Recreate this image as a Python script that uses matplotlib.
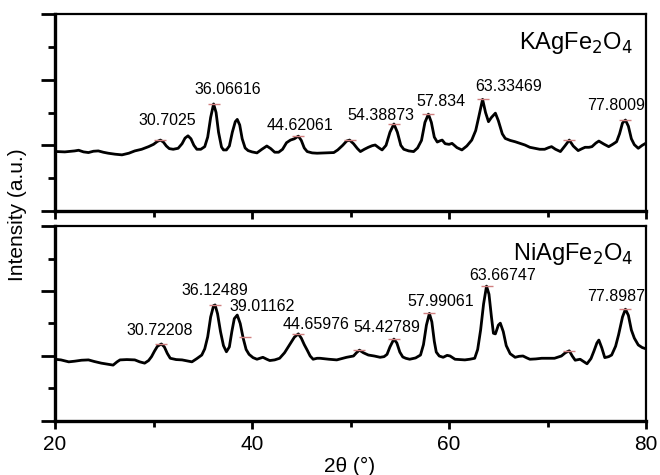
import matplotlib
matplotlib.use("Agg")
import matplotlib.pyplot as plt
from matplotlib.ticker import MultipleLocator, NullFormatter

plt.rcParams['font.family'] = ['Liberation Sans', 'DejaVu Sans']

# ============================
# data
# ============================

# KAgFe2O4 pattern
k_theta = [20.2, 21.0, 22.0, 22.4, 22.9, 23.4, 23.9, 24.4, 24.9, 25.4, 26.1, 26.8,
           27.5, 28.1, 28.8, 29.5, 30.0, 30.4, 30.7, 31.0, 31.3, 31.6, 32.0, 32.5,
           32.9, 33.2, 33.5, 33.8, 34.1, 34.4, 34.8, 35.2, 35.5, 35.8, 36.1, 36.35,
           36.6, 36.9, 37.1, 37.4, 37.7, 38.0, 38.3, 38.5, 38.75, 39.0, 39.3, 39.6,
           40.0, 40.5, 41.0, 41.5, 41.9, 42.3, 42.7, 43.1, 43.5, 43.9, 44.3, 44.7,
           45.0, 45.3, 45.6, 46.1, 46.6, 47.5, 48.3, 48.7, 49.2, 49.6, 49.9, 50.3,
           50.7, 51.0, 51.4, 51.8, 52.2, 52.5, 52.9, 53.2, 53.6, 54.0, 54.4, 54.75,
           55.1, 55.4, 55.9, 56.4, 56.8, 57.2, 57.55, 57.9, 58.2, 58.5, 58.8, 59.1,
           59.3, 59.6, 60.0, 60.3, 60.8, 61.3, 61.8, 62.3, 62.7, 63.0, 63.4, 63.7,
           64.0, 64.3, 64.7, 65.0, 65.4, 65.7, 66.2, 66.7, 67.2, 67.7, 68.2, 68.7,
           69.2, 69.7, 70.1, 70.4, 70.8, 71.3, 71.8, 72.2, 72.6, 73.1, 73.5, 73.8,
           74.2, 74.5, 74.9, 75.2, 75.7, 76.2, 76.6, 77.0, 77.3, 77.6, 77.9, 78.2,
           78.5, 78.8, 79.2, 79.6, 80.0]
k_int = [181, 180, 183, 185, 180, 178, 182, 183, 179, 176, 173, 171,
         176, 183, 188, 196, 203, 212, 216, 210, 198, 190, 188, 191,
         205, 222, 229, 220, 200, 188, 188, 196, 225, 285, 326, 300,
         240, 195, 186, 186, 198, 240, 272, 279, 262, 220, 192, 184,
         180, 177, 188, 198, 190, 179, 179, 188, 208, 216, 220, 228,
         215, 192, 181, 177, 176, 177, 178, 186, 200, 213, 216, 205,
         190, 181, 188, 194, 199, 201, 192, 186, 200, 240, 265, 240,
         200, 188, 183, 181, 192, 215, 270, 295, 270, 225, 210, 214,
         216, 205, 203, 206, 193, 186, 198, 216, 245, 285, 340, 300,
         272, 285, 298, 275, 235, 221, 215, 211, 206, 201, 194, 191,
         188, 188, 193, 196, 188, 181, 200, 216, 198, 184, 190, 194,
         194, 196, 207, 213, 204, 196, 203, 211, 235, 268, 277, 258,
         220, 202, 191, 200, 207]

# NiAgFe2O4 pattern
ni_theta = [20.0, 20.6, 21.4, 22.0, 22.7, 23.4, 24.0, 24.7, 25.3, 25.9, 26.3, 26.6,
            27.3, 28.1, 28.6, 29.1, 29.5, 29.8, 30.1, 30.4, 30.8, 31.1, 31.4, 31.7,
            32.3, 32.9, 33.4, 33.9, 34.4, 34.9, 35.2, 35.5, 35.8, 36.1, 36.25, 36.5,
            36.8, 37.1, 37.4, 37.7, 37.95, 38.2, 38.5, 38.8, 39.1, 39.4, 39.7, 40.1,
            40.5, 41.1, 41.5, 41.8, 42.3, 42.8, 43.3, 43.9, 44.3, 44.7, 45.0, 45.3,
            45.6, 45.9, 46.2, 46.6, 46.9, 47.8, 48.6, 49.1, 49.6, 50.3, 50.6, 50.9,
            51.3, 51.8, 52.4, 53.0, 53.4, 53.7, 54.0, 54.4, 54.7, 55.0, 55.3, 55.6,
            56.0, 56.6, 57.1, 57.4, 57.7, 58.0, 58.25, 58.5, 58.7, 59.0, 59.4, 59.8,
            60.1, 60.6, 61.1, 61.6, 62.1, 62.6, 62.9, 63.2, 63.5, 63.8, 64.05, 64.3,
            64.5, 64.7, 65.0, 65.2, 65.5, 65.8, 66.2, 66.7, 67.1, 67.5, 67.9, 68.2,
            68.8, 69.4, 70.0, 70.7, 71.1, 71.4, 71.8, 72.2, 72.5, 72.8, 73.3, 73.7,
            74.0, 74.4, 74.7, 75.0, 75.2, 75.5, 75.8, 76.2, 76.5, 76.9, 77.2, 77.6,
            77.9, 78.2, 78.5, 78.8, 79.2, 79.6, 80.0]
ni_int = [190, 188, 182, 184, 187, 188, 183, 178, 175, 172, 182, 188,
          189, 188, 182, 178, 186, 198, 215, 230, 237, 228, 208, 193,
          189, 188, 185, 182, 192, 203, 222, 259, 320, 355, 357, 330,
          275, 232, 213, 228, 275, 315, 326, 300, 255, 220, 205, 195,
          190, 196, 190, 186, 188, 193, 210, 239, 258, 268, 255, 235,
          218, 200, 190, 193, 193, 190, 188, 192, 196, 200, 210, 218,
          210, 203, 200, 196, 198, 205, 228, 252, 240, 212, 197, 193,
          190, 194, 203, 235, 295, 331, 305, 245, 212, 200, 196, 202,
          200, 190, 189, 188, 190, 193, 220, 280, 360, 415, 390, 320,
          270, 268, 295, 301, 275, 232, 207, 196, 199, 200, 194, 190,
          191, 193, 193, 193, 197, 200, 210, 216, 200, 187, 190, 182,
          176, 192, 215, 240, 249, 225, 195, 198, 203, 230, 265, 320,
          344, 325, 280, 255, 234, 226, 222]

# peak labels: text, x, y
k_labels = ["30.7025", "36.06616", "44.62061", "54.38873", "57.834", "63.33469", "77.8009"]
k_label_x = [31.4, 37.5, 44.9, 53.1, 59.2, 66.0, 76.9]
k_label_y = [277, 369, 259, 292, 332, 378, 320]

ni_labels = ["30.72208", "36.12489", "39.01162", "44.65976", "54.42789",
             "57.99061", "63.66747", "77.8987"]
ni_label_x = [30.6, 36.2, 41.0, 46.5, 53.7, 59.1, 65.4, 77.0]
ni_label_y = [278, 403, 352, 298, 288, 367, 449, 382]

# small red peak-pick marks
k_mark_x = [30.7, 36.1, 44.7, 49.9, 54.4, 57.9, 63.4, 72.2, 77.9]
k_mark_y = [216, 326, 228, 216, 265, 295, 340, 216, 277]
ni_mark_x = [30.8, 36.2, 39.3, 44.7, 50.9, 54.4, 58.0, 63.8, 72.2, 77.9]
ni_mark_y = [237, 357, 258, 268, 218, 252, 331, 415, 216, 344]

# ============================
# plot
# ============================

fig = plt.figure(figsize=(6.6, 4.75), dpi=100)
ax1 = fig.add_axes([0.0833, 0.5558, 0.8957, 0.4147])
ax2 = fig.add_axes([0.0833, 0.1137, 0.8957, 0.4105])

panels = [
    (ax1, k_theta, k_int, k_labels, k_label_x, k_label_y, k_mark_x, k_mark_y, "KAgFe$_2$O$_4$"),
    (ax2, ni_theta, ni_int, ni_labels, ni_label_x, ni_label_y, ni_mark_x, ni_mark_y, "NiAgFe$_2$O$_4$"),
]

for ax, xs, ys, labs, lx, ly, mx, my, name in panels:
    ax.plot(xs, ys, color="black", lw=2.0, solid_joinstyle="round")
    ax.plot(mx, my, ls="none", marker="_", ms=9, mew=1.0, color="#d08080")
    for t, x, y in zip(labs, lx, ly):
        ax.text(x, y, t, ha="center", va="center", fontsize=11.5)
    ax.text(78.7, 513, name, ha="right", va="center", fontsize=17)

    ax.set_xlim(20, 80)
    ax.set_ylim(0, 600)
    ax.xaxis.set_major_locator(MultipleLocator(20))
    ax.xaxis.set_minor_locator(MultipleLocator(10))
    ax.yaxis.set_major_locator(MultipleLocator(200))
    ax.yaxis.set_minor_locator(MultipleLocator(100))
    ax.yaxis.set_major_formatter(NullFormatter())
    ax.tick_params(axis="y", which="major", direction="out", length=10, width=2)
    ax.tick_params(axis="y", which="minor", direction="out", length=5, width=2)
    ax.tick_params(axis="x", which="major", direction="out", length=6, width=2, labelsize=15, pad=4)
    ax.tick_params(axis="x", which="minor", direction="out", length=4, width=2)
    for side in ["left", "bottom"]:
        ax.spines[side].set_linewidth(2.4)
    for side in ["top", "right"]:
        ax.spines[side].set_linewidth(1.6)

ax1.xaxis.set_major_formatter(NullFormatter())

fig.text(0.027, 0.548, "Intensity (a.u.)", rotation=90, ha="center", va="center", fontsize=15)
fig.text(0.53, 0.017, "2θ (°)", ha="center", va="center", fontsize=15)

fig.savefig("out.png", dpi=100)
